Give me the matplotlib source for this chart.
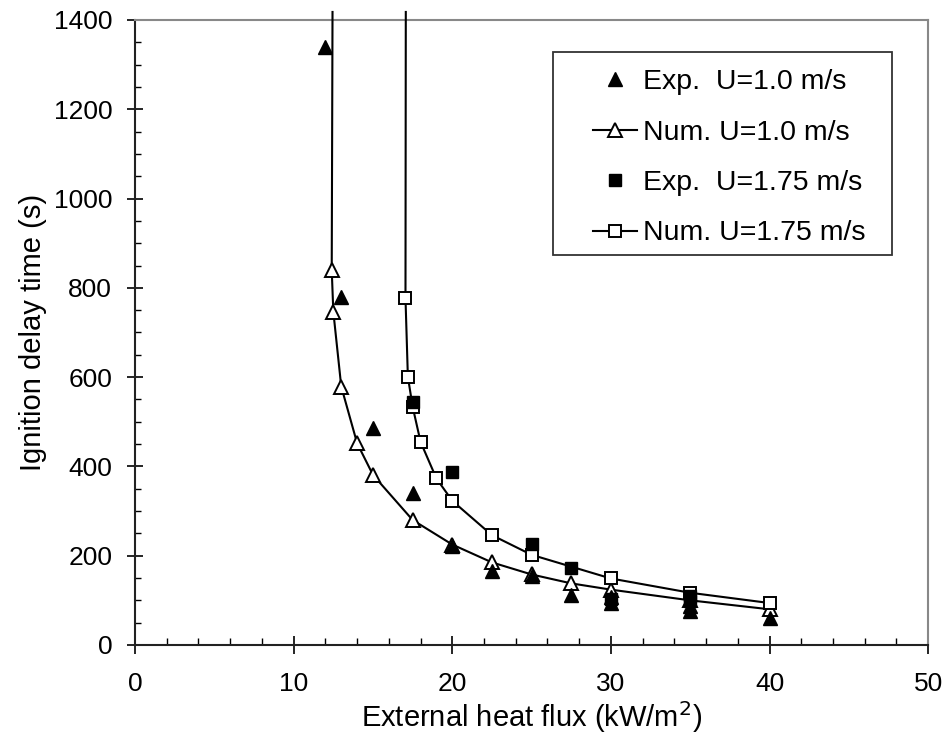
import numpy as np
import matplotlib
matplotlib.use('Agg')
import matplotlib.pyplot as plt
from matplotlib.patches import Rectangle

plt.rcParams['font.family'] = ['Liberation Sans', 'DejaVu Sans']

# experimental data
exp1_x = [12, 13, 15, 17.5, 20, 22.5, 25, 27.5, 30, 30, 35, 35, 40]
exp1_y = [1340, 780, 487, 340, 222, 165, 155, 112, 108, 95, 88, 76, 60]
exp2_x = [17.5, 20, 25, 27.5, 30, 35, 35]
exp2_y = [544, 388, 226, 172, 104, 110, 98]

# numerical results (first point = vertical asymptote at the top)
num1_x = [12.45, 12.4, 12.5, 13, 14, 15, 17.5, 20, 22.5, 25, 27.5, 30, 35, 40]
num1_y = [1418, 840, 747, 579, 452, 381, 280, 225, 185, 158, 138, 124, 100, 80]
num2_x = [17.07, 17.05, 17.2, 17.5, 18, 19, 20, 22.5, 25, 30, 35, 40]
num2_y = [1418, 777, 601, 534, 455, 373, 323, 246, 202, 149, 117, 94]

fig = plt.figure(figsize=(9.49, 7.46), dpi=100)
ax = fig.add_axes([0.1423, 0.1354, 0.8357, 0.8378])

ax.plot(num1_x, num1_y, color='black', lw=1.5, marker='^', ms=10.5, mfc='white',
        mec='black', mew=1.4, markevery=list(range(1, len(num1_x))), clip_on=False,
        label='Num. U=1.0 m/s', zorder=3)
ax.plot(num2_x, num2_y, color='black', lw=1.5, marker='s', ms=8.3, mfc='white',
        mec='black', mew=1.4, markevery=list(range(1, len(num2_x))), clip_on=False,
        label='Num. U=1.75 m/s', zorder=3)
ax.plot(exp1_x, exp1_y, ls='none', marker='^', ms=10.5, color='black',
        label='Exp.  U=1.0 m/s', zorder=4)
ax.plot(exp2_x, exp2_y, ls='none', marker='s', ms=8.3, color='black',
        label='Exp.  U=1.75 m/s', zorder=4)

ax.set_xlim(0, 50)
ax.set_ylim(0, 1400)
ax.set_xticks(np.arange(0, 51, 10))
ax.set_xticks(np.arange(0, 51, 2), minor=True)
ax.set_yticks(np.arange(0, 1401, 200))
ax.set_yticks(np.arange(0, 1401, 50), minor=True)

ax.tick_params(axis='x', which='major', direction='inout', length=13, width=1.2,
               labelsize=19, pad=13)
ax.tick_params(axis='x', which='minor', direction='in', length=5, width=1.0)
ax.tick_params(axis='y', which='major', direction='inout', length=12, width=1.2,
               labelsize=19, pad=10.5)
ax.tick_params(axis='y', which='minor', direction='in', length=4.3, width=1.0)

for s in ['left', 'bottom']:
    ax.spines[s].set_linewidth(1.5)
    ax.spines[s].set_color('#222222')
for s in ['top', 'right']:
    ax.spines[s].set_linewidth(1.5)
    ax.spines[s].set_color('#888888')

ax.set_xlabel('External heat flux (kW/m$^2$)', fontsize=21, labelpad=2)
ax.set_ylabel('Ignition delay time (s)', fontsize=21, labelpad=5)

h, l = ax.get_legend_handles_labels()
order = [2, 0, 3, 1]
ax.legend([h[i] for i in order], [l[i] for i in order], loc='upper left',
          bbox_to_anchor=(0.549, 0.958), frameon=False, fontsize=20.5,
          handlelength=1.55, handletextpad=0.2, labelspacing=0.86, borderpad=0.3)
ax.add_patch(Rectangle((0.527, 0.624), 0.428, 0.325, transform=ax.transAxes,
                       fill=False, ec='#333333', lw=1.3, zorder=5))

fig.savefig('out.png', dpi=100)
